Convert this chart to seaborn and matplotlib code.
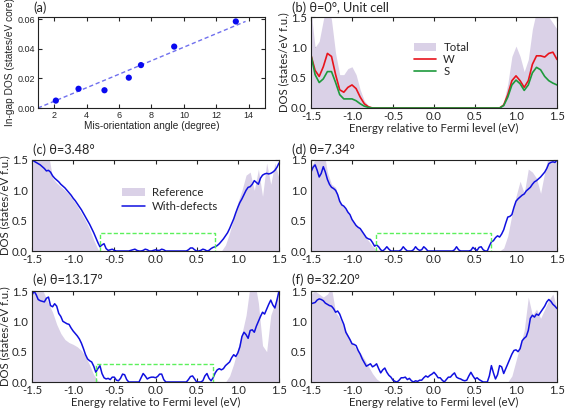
import numpy as np
import matplotlib
matplotlib.use("Agg")
import matplotlib.pyplot as plt
from matplotlib.ticker import FormatStrFormatter
import seaborn as sns

# ---------------- data ----------------
# panel (a)
angle = [2.1, 3.5, 5.1, 6.6, 7.35, 9.4, 13.2]
ingap_dos = [0.005, 0.013, 0.012, 0.0205, 0.029, 0.0415, 0.0585]
fit_x = [1.0, 13.8]
fit_y = [0.0, 0.0585]

# energy grids (eV)
E05 = np.round(np.linspace(-1.5, 1.5, 61), 3)
E025 = np.round(np.linspace(-1.5, 1.5, 121), 4)

# panel (b)
total_b = [1.60, 1.00, 1.10, 1.45, 1.75, 1.45, 0.90, 0.55, 0.55, 0.65,
           0.68, 0.55, 0.30, 0.12, 0.04, 0.00, 0.00, 0.00, 0.00, 0.00,
           0.00, 0.00, 0.00, 0.00, 0.00, 0.00, 0.00, 0.00, 0.00, 0.00,
           0.00, 0.00, 0.00, 0.00, 0.00, 0.00, 0.00, 0.00, 0.00, 0.00,
           0.00, 0.00, 0.00, 0.00, 0.00, 0.00, 0.00, 0.10, 0.40, 0.85,
           1.02, 0.85, 0.60, 0.80, 1.30, 1.60, 1.65, 1.55, 1.50, 1.40,
           1.30]
w_b = [0.87, 0.62, 0.52, 0.68, 0.90, 0.85, 0.55, 0.30, 0.26, 0.34,
       0.38, 0.32, 0.18, 0.07, 0.02, 0.00, 0.00, 0.00, 0.00, 0.00,
       0.00, 0.00, 0.00, 0.00, 0.00, 0.00, 0.00, 0.00, 0.00, 0.00,
       0.00, 0.00, 0.00, 0.00, 0.00, 0.00, 0.00, 0.00, 0.00, 0.00,
       0.00, 0.00, 0.00, 0.00, 0.00, 0.00, 0.00, 0.05, 0.22, 0.45,
       0.53, 0.45, 0.34, 0.45, 0.72, 0.86, 0.86, 0.84, 0.90, 0.92,
       0.80]
s_b = [0.87, 0.55, 0.42, 0.48, 0.60, 0.60, 0.42, 0.22, 0.15, 0.15,
       0.15, 0.12, 0.07, 0.03, 0.01, 0.00, 0.00, 0.00, 0.00, 0.00,
       0.00, 0.00, 0.00, 0.00, 0.00, 0.00, 0.00, 0.00, 0.00, 0.00,
       0.00, 0.00, 0.00, 0.00, 0.00, 0.00, 0.00, 0.00, 0.00, 0.00,
       0.00, 0.00, 0.00, 0.00, 0.00, 0.00, 0.00, 0.04, 0.18, 0.38,
       0.46, 0.40, 0.29, 0.38, 0.58, 0.67, 0.63, 0.52, 0.45, 0.41,
       0.38]

# reference DOS (filled) for panels c-f
ref_c = [1.70, 1.70, 1.70, 1.70, 1.60, 1.20, 1.12, 1.06, 1.00, 0.93,
         0.84, 0.74, 0.62, 0.50, 0.36, 0.18, 0.03, 0.00, 0.00, 0.00,
         0.00, 0.00, 0.00, 0.00, 0.00, 0.00, 0.00, 0.00, 0.00, 0.00,
         0.00, 0.00, 0.00, 0.00, 0.00, 0.00, 0.00, 0.00, 0.00, 0.00,
         0.00, 0.00, 0.00, 0.00, 0.00, 0.00, 0.00, 0.10, 0.30, 0.55,
         0.80, 1.00, 1.25, 1.30, 1.00, 1.35, 0.90, 1.45, 1.10, 1.45,
         1.20]
ref_d = [1.40, 1.50, 1.70, 1.70, 1.30, 1.10, 1.05, 0.80, 0.72, 0.62,
         0.50, 0.42, 0.35, 0.25, 0.17, 0.08, 0.02, 0.00, 0.00, 0.00,
         0.00, 0.00, 0.00, 0.00, 0.00, 0.00, 0.00, 0.00, 0.00, 0.00,
         0.00, 0.00, 0.00, 0.00, 0.00, 0.00, 0.00, 0.00, 0.00, 0.00,
         0.00, 0.00, 0.00, 0.00, 0.00, 0.00, 0.00, 0.05, 0.25, 0.60,
         0.90, 1.15, 0.95, 1.35, 1.30, 1.20, 0.95, 1.30, 1.60, 1.50,
         1.50]
ref_e = [1.70, 1.70, 1.60, 1.45, 1.30, 1.15, 0.95, 0.80, 0.70, 0.65,
         0.62, 0.58, 0.52, 0.42, 0.28, 0.12, 0.02, 0.00, 0.00, 0.00,
         0.00, 0.00, 0.00, 0.00, 0.00, 0.00, 0.00, 0.00, 0.00, 0.00,
         0.00, 0.00, 0.00, 0.00, 0.00, 0.00, 0.00, 0.00, 0.00, 0.00,
         0.00, 0.00, 0.00, 0.00, 0.00, 0.00, 0.00, 0.00, 0.10, 0.30,
         0.55, 0.80, 1.10, 1.60, 1.70, 1.30, 0.60, 0.50, 1.10, 1.30,
         1.50]
ref_f = [1.45, 1.50, 1.45, 1.40, 1.45, 1.55, 1.15, 1.05, 0.92, 0.78,
         0.65, 0.55, 0.48, 0.38, 0.26, 0.14, 0.05, 0.00, 0.00, 0.00,
         0.00, 0.00, 0.00, 0.00, 0.00, 0.00, 0.00, 0.00, 0.00, 0.00,
         0.00, 0.00, 0.00, 0.00, 0.00, 0.00, 0.00, 0.00, 0.00, 0.00,
         0.00, 0.00, 0.00, 0.00, 0.00, 0.00, 0.00, 0.00, 0.00, 0.10,
         0.35, 0.60, 0.85, 1.40, 1.10, 1.20, 1.05, 1.20, 1.35, 1.45,
         1.20]

# with-defects DOS (0.025 eV grid)
defect_c = [1.50, 1.48, 1.46, 1.44, 1.42, 1.39, 1.36, 1.32, 1.33, 1.30,
            1.24, 1.20, 1.17, 1.14, 1.10, 1.07, 1.04, 1.00, 0.96, 0.92,
            0.87, 0.83, 0.78, 0.73, 0.68, 0.62, 0.56, 0.50, 0.44, 0.37,
            0.30, 0.22, 0.14, 0.07, 0.10, 0.12, 0.04, 0.01, 0.02, 0.03,
            0.01, 0.00, 0.00, 0.00, 0.00, 0.00, 0.00, 0.00, 0.01, 0.02,
            0.03, 0.01, 0.00, 0.00, 0.01, 0.03, 0.02, 0.00, 0.00, 0.01,
            0.02, 0.01, 0.01, 0.03, 0.02, 0.00, 0.00, 0.00, 0.00, 0.00,
            0.00, 0.00, 0.00, 0.00, 0.00, 0.00, 0.02, 0.05, 0.05, 0.02,
            0.00, 0.00, 0.01, 0.03, 0.02, 0.00, 0.01, 0.04, 0.06, 0.07,
            0.09, 0.12, 0.16, 0.20, 0.25, 0.30, 0.37, 0.45, 0.53, 0.63,
            0.72, 0.80, 0.86, 0.93, 1.00, 1.05, 1.06, 1.10, 1.16, 1.13,
            1.10, 1.20, 1.25, 1.27, 1.28, 1.27, 1.28, 1.30, 1.33, 1.38,
            1.45]
defect_d = [1.30, 1.38, 1.42, 1.33, 1.22, 1.28, 1.39, 1.30, 1.18, 1.10,
            1.05, 1.03, 1.00, 0.93, 0.82, 0.76, 0.74, 0.70, 0.64, 0.60,
            0.52, 0.47, 0.42, 0.39, 0.37, 0.32, 0.27, 0.22, 0.20, 0.19,
            0.14, 0.08, 0.10, 0.07, 0.02, 0.00, 0.03, 0.07, 0.03, 0.00,
            0.00, 0.00, 0.00, 0.00, 0.02, 0.07, 0.03, 0.00, 0.00, 0.00,
            0.02, 0.07, 0.03, 0.01, 0.02, 0.07, 0.04, 0.00, 0.00, 0.00,
            0.00, 0.00, 0.00, 0.00, 0.00, 0.00, 0.00, 0.00, 0.00, 0.00,
            0.02, 0.07, 0.02, 0.00, 0.00, 0.00, 0.00, 0.00, 0.01, 0.06,
            0.03, 0.01, 0.06, 0.07, 0.02, 0.00, 0.00, 0.08, 0.15, 0.17,
            0.22, 0.25, 0.23, 0.28, 0.35, 0.46, 0.56, 0.57, 0.60, 0.72,
            0.82, 0.86, 0.89, 0.92, 0.94, 0.99, 1.02, 1.05, 1.10, 1.14,
            1.16, 1.19, 1.22, 1.26, 1.30, 1.36, 1.44, 1.46, 1.47, 1.46,
            1.50]
defect_e = [1.43, 1.50, 1.44, 1.36, 1.34, 1.33, 1.32, 1.38, 1.40, 1.26,
            1.24, 1.29, 1.25, 1.13, 1.08, 1.00, 0.98, 0.96, 0.95, 0.89,
            0.84, 0.80, 0.76, 0.71, 0.64, 0.55, 0.45, 0.38, 0.35, 0.33,
            0.26, 0.16, 0.22, 0.27, 0.14, 0.07, 0.05, 0.06, 0.04, 0.08,
            0.08, 0.03, 0.02, 0.06, 0.13, 0.12, 0.04, 0.00, 0.00, 0.00,
            0.00, 0.00, 0.00, 0.07, 0.14, 0.10, 0.05, 0.07, 0.08, 0.08,
            0.07, 0.09, 0.13, 0.13, 0.04, 0.00, 0.00, 0.00, 0.00, 0.00,
            0.00, 0.00, 0.00, 0.00, 0.00, 0.00, 0.04, 0.09, 0.10, 0.05,
            0.00, 0.00, 0.00, 0.02, 0.10, 0.14, 0.06, 0.02, 0.07, 0.15,
            0.20, 0.22, 0.20, 0.22, 0.27, 0.30, 0.33, 0.40, 0.45, 0.42,
            0.48, 0.58, 0.75, 0.82, 0.78, 0.72, 0.85, 0.86, 0.82, 0.92,
            1.00, 1.08, 1.15, 1.12, 1.20, 1.28, 1.35, 1.27, 1.22, 1.35,
            1.50]
defect_f = [1.29, 1.30, 1.31, 1.35, 1.37, 1.36, 1.34, 1.30, 1.28, 1.26,
            1.25, 1.21, 1.15, 1.17, 1.12, 1.03, 0.95, 0.82, 0.76, 0.70,
            0.63, 0.62, 0.60, 0.52, 0.46, 0.38, 0.32, 0.26, 0.28, 0.30,
            0.25, 0.27, 0.30, 0.22, 0.15, 0.20, 0.23, 0.16, 0.11, 0.08,
            0.03, 0.01, 0.00, 0.03, 0.07, 0.07, 0.08, 0.04, 0.06, 0.02,
            0.00, 0.02, 0.01, 0.03, 0.03, 0.07, 0.10, 0.08, 0.11, 0.13,
            0.16, 0.12, 0.07, 0.07, 0.03, 0.00, 0.04, 0.08, 0.08, 0.12,
            0.15, 0.08, 0.06, 0.05, 0.03, 0.02, 0.03, 0.10, 0.16, 0.10,
            0.05, 0.07, 0.04, 0.02, 0.00, 0.00, 0.00, 0.10, 0.27, 0.15,
            0.05, 0.12, 0.27, 0.25, 0.14, 0.22, 0.30, 0.38, 0.46, 0.52,
            0.53, 0.50, 0.55, 0.68, 0.72, 0.75, 0.85, 1.05, 1.10, 1.07,
            1.12, 1.10, 1.15, 1.20, 1.25, 1.32, 1.36, 1.33, 1.28, 1.25,
            1.21]

# gap boxes: [left, right, height]
box_c = [-0.68, 0.72, 0.30]
box_d = [-0.71, 0.70, 0.30]
box_e = [-0.72, 0.70, 0.29]

titles = ["(a)", "(b) θ=0°, Unit cell", "(c) θ=3.48°", "(d) θ=7.34°",
          "(e) θ=13.17°", "(f) θ=32.20°"]
e_ticks = [-1.5, -1.0, -0.5, 0.0, 0.5, 1.0, 1.5]
dos_ticks = [0.0, 0.5, 1.0, 1.5]
angle_ticks = [2, 4, 6, 8, 10, 12, 14]
ingap_ticks = [0.00, 0.02, 0.04, 0.06]

# ---------------- style ----------------
sns.set_style("ticks")
plt.rcParams["font.family"] = ["Lato", "DejaVu Sans"]
plt.rcParams["axes.linewidth"] = 0.8
plt.rcParams["axes.edgecolor"] = "#222222"

FILL = "#dad1e7"
BLUE = "#1010e0"
RED = "#e8141c"
GREEN = "#1e9a3c"
BOXG = "#5cf05c"
ARIAL = ["Liberation Sans", "DejaVu Sans"]
FS = 8.2

W, H = 567, 411
fig = plt.figure(figsize=(W / 100, H / 100), dpi=100)


def axpx(l, t, r, b):
    return fig.add_axes([l / W, 1 - b / H, (r - l) / W, (b - t) / H])


def style_dos(ax, xlabel=False, ylabel=False):
    ax.set_xlim(-1.5, 1.5)
    ax.set_ylim(0, 1.5)
    ax.set_xticks(e_ticks)
    ax.set_yticks(dos_ticks)
    ax.xaxis.set_major_formatter(FormatStrFormatter("%.1f"))
    ax.yaxis.set_major_formatter(FormatStrFormatter("%.1f"))
    ax.tick_params(direction="in", top=True, right=True, length=3,
                   width=0.8, labelsize=FS)
    ax.tick_params(axis="x", pad=2.5)
    ax.tick_params(axis="y", pad=3)
    ax.set_xlabel("Energy relative to Fermi level (eV)" if xlabel else "",
                  fontsize=FS, labelpad=0.5)
    ax.set_ylabel("DOS (states/eV f.u.)" if ylabel else "", fontsize=FS,
                  labelpad=1.5)
    for s in ax.spines.values():
        s.set_visible(True)


# ---- (a)
axa = axpx(38, 17, 265, 108)
sns.lineplot(x=fit_x, y=fit_y, ax=axa, color="#7070ee", lw=1.0,
             linestyle=(0, (3, 2)))
sns.scatterplot(x=angle, y=ingap_dos, ax=axa, color="#0a0af0", s=20,
                edgecolor="none", zorder=3)
axa.set_xlim(1, 15)
axa.set_ylim(0, 0.0615)
axa.set_xticks(angle_ticks)
axa.set_yticks(ingap_ticks)
axa.yaxis.set_major_formatter(FormatStrFormatter("%.2f"))
axa.tick_params(direction="in", top=True, right=True, length=3, width=0.8,
                labelsize=6.5, pad=2)
for lab in axa.get_xticklabels() + axa.get_yticklabels():
    lab.set_family(ARIAL)
axa.set_xlabel("Mis-orientation angle (degree)", fontsize=7.3, labelpad=1,
               family=ARIAL)
axa.set_ylabel("In-gap DOS (states/eV core)", fontsize=7.3, labelpad=2,
               family=ARIAL)

# ---- (b)
axb = axpx(311, 17, 557, 108)
axb.fill_between(E05, total_b, 0, color=FILL, lw=0, label="Total")
sns.lineplot(x=E05, y=w_b, ax=axb, color=RED, lw=1.2, label="W")
sns.lineplot(x=E05, y=s_b, ax=axb, color=GREEN, lw=1.2, label="S")
style_dos(axb, xlabel=True, ylabel=True)
axb.legend(frameon=False, loc="center", bbox_to_anchor=(0.53, 0.53),
           fontsize=FS, handlelength=2.0, labelspacing=0.1,
           handletextpad=0.6, borderpad=0)

# ---- (c)-(f)
panels = [
    ((32, 160, 279, 251), ref_c, defect_c, box_c, False, True),
    ((311, 160, 557, 251), ref_d, defect_d, box_d, False, False),
    ((32, 291, 279, 382), ref_e, defect_e, box_e, True, True),
    ((311, 291, 557, 382), ref_f, defect_f, None, True, False),
]
for i, (pos, ref, dfc, box, xl, yl) in enumerate(panels):
    ax = axpx(*pos)
    ax.fill_between(E05, ref, 0, color=FILL, lw=0, label="Reference")
    sns.lineplot(x=E025, y=dfc, ax=ax, color=BLUE, lw=1.1,
                 label="With-defects")
    if box is not None:
        x0, x1, h = box
        ax.plot([x0, x0, x1, x1], [0, h, h, 0], color=BOXG, lw=1.0,
                ls=(0, (3, 1.5)), zorder=4)
    style_dos(ax, xlabel=xl, ylabel=yl)
    if i == 0:
        ax.legend(frameon=False, loc="center", bbox_to_anchor=(0.56, 0.57),
                  fontsize=FS, handlelength=2.0, labelspacing=0.25,
                  handletextpad=0.6, borderpad=0)
    else:
        lg = ax.get_legend()
        if lg is not None:
            lg.remove()

# ---- panel titles
title_pos = [(33, 1), (292, 1), (33, 143), (292, 143), (33, 273), (292, 273)]
for t, (x, y) in zip(titles, title_pos):
    fig.text(x / W, 1 - y / H, t, fontsize=9.2, va="top", ha="left")

fig.savefig("out.png", dpi=100)
